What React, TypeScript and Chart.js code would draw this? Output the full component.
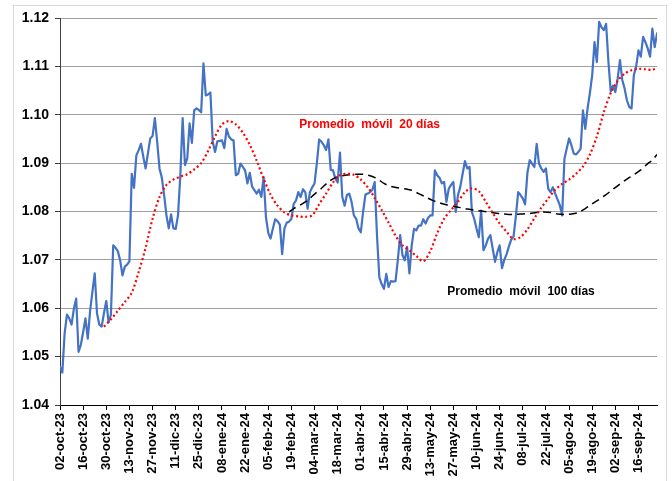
import React, { useEffect, useRef } from 'react';
import { Chart, registerables } from 'chart.js';

Chart.register(...registerables);

// x-axis tick labels, one every 10 business days
const tickLabels = [
  '02-oct-23', '16-oct-23', '30-oct-23', '13-nov-23', '27-nov-23', '11-dic-23', '25-dic-23',
  '08-ene-24', '22-ene-24', '05-feb-24', '19-feb-24', '04-mar-24', '18-mar-24', '01-abr-24',
  '15-abr-24', '29-abr-24', '13-may-24', '27-may-24', '10-jun-24', '24-jun-24', '08-jul-24',
  '22-jul-24', '05-ago-24', '19-ago-24', '02-sep-24', '16-sep-24',
];
const daysPerTick = 10;

// daily EUR/USD rate, one value per business day from 02-oct-23
const rate = [
  1.0479, 1.0467, 1.0548, 1.0587, 1.0579, 1.0566, 1.0599, 1.0620, 1.0510, 1.0524,
  1.0551, 1.0579, 1.0537, 1.0594, 1.0634, 1.0672, 1.0589, 1.0566, 1.0562, 1.0590,
  1.0615, 1.0571, 1.0586, 1.0730, 1.0725, 1.0718, 1.0699, 1.0668, 1.0686, 1.0690,
  1.0697, 1.0878, 1.0849, 1.0916, 1.0927, 1.0940, 1.0913, 1.0889, 1.0920, 1.0951,
  1.0956, 1.0993, 1.0944, 1.0889, 1.0870, 1.0834, 1.0792, 1.0765, 1.0794, 1.0765,
  1.0764, 1.0792, 1.0875, 1.0993, 1.0896, 1.0910, 1.0982, 1.0942, 1.1009, 1.1013,
  1.1010, 1.1005, 1.1106, 1.1040, 1.1042, 1.1046, 1.0944, 1.0923, 1.0945, 1.0946,
  1.0947, 1.0931, 1.0971, 1.0955, 1.0949, 1.0947, 1.0875, 1.0878, 1.0899, 1.0892,
  1.0885, 1.0858, 1.0880, 1.0852, 1.0844, 1.0837, 1.0845, 1.0830, 1.0871, 1.0789,
  1.0756, 1.0744, 1.0765, 1.0784, 1.0780, 1.0773, 1.0712, 1.0765, 1.0777, 1.0779,
  1.0785, 1.0816, 1.0823, 1.0840, 1.0830, 1.0846, 1.0840, 1.0806, 1.0840, 1.0850,
  1.0858, 1.0900, 1.0949, 1.0944, 1.0937, 1.0927, 1.0949, 1.0886, 1.0885, 1.0868,
  1.0860, 1.0922, 1.0830, 1.0812, 1.0834, 1.0837, 1.0820, 1.0792, 1.0785, 1.0765,
  1.0757, 1.0800, 1.0835, 1.0837, 1.0840, 1.0845, 1.0861, 1.0750, 1.0664, 1.0650,
  1.0640, 1.0671, 1.0644, 1.0656, 1.0655, 1.0656, 1.0700, 1.0751, 1.0710, 1.0699,
  1.0727, 1.0672, 1.0730, 1.0764, 1.0761, 1.0771, 1.0771, 1.0784, 1.0775, 1.0786,
  1.0792, 1.0792, 1.0885, 1.0875, 1.0870, 1.0858, 1.0861, 1.0820, 1.0847, 1.0855,
  1.0861, 1.0799, 1.0834, 1.0851, 1.0878, 1.0904, 1.0889, 1.0892, 1.0799, 1.0785,
  1.0765, 1.0747, 1.0802, 1.0720, 1.0730, 1.0744, 1.0751, 1.0723, 1.0696, 1.0716,
  1.0730, 1.0683, 1.0700, 1.0712, 1.0728, 1.0742, 1.0748, 1.0790, 1.0840, 1.0834,
  1.0827, 1.0815, 1.0880, 1.0906, 1.0899, 1.0892, 1.0940, 1.0899, 1.0889, 1.0882,
  1.0889, 1.0847, 1.0840, 1.0850, 1.0837, 1.0825, 1.0813, 1.0792, 1.0909, 1.0930,
  1.0951, 1.0937, 1.0920, 1.0918, 1.0923, 1.0930, 1.1009, 1.0971, 1.1013, 1.1045,
  1.1082, 1.1150, 1.1109, 1.1192, 1.1181, 1.1175, 1.1188, 1.1110, 1.1048, 1.1060,
  1.1047, 1.1075, 1.1113, 1.1072, 1.1054, 1.1030, 1.1016, 1.1013, 1.1082, 1.1100,
  1.1133, 1.1120, 1.1161, 1.1150, 1.1137, 1.1120, 1.1178, 1.1140, 1.1168,
];

// 20-day moving average (business-day index, value)
const ma20Day = [
  19, 22, 25, 28, 31, 34, 37, 40, 43, 46, 49, 52, 55, 58, 61, 64, 67, 70, 73, 76,
  79, 82, 85, 88, 91, 94, 97, 100, 103, 106, 109, 112, 115, 118, 121, 124, 127, 130, 133, 136,
  139, 142, 145, 148, 151, 154, 157, 160, 163, 166, 169, 172, 175, 178, 181, 184, 187, 190, 193, 196,
  199, 202, 205, 208, 211, 214, 217, 220, 223, 226, 229, 232, 235, 238, 241, 244, 247, 250, 253, 256,
  258,
];
const ma20Value = [
  1.0562, 1.0577, 1.0595, 1.0613, 1.0632, 1.0675, 1.0725, 1.0785, 1.0830, 1.0855,
  1.0866, 1.0872, 1.0877, 1.0887, 1.0900, 1.0925, 1.0955, 1.0980, 1.0987, 1.0980,
  1.0963, 1.0938, 1.0905, 1.0868, 1.0835, 1.0812, 1.0798, 1.0792, 1.0790, 1.0789,
  1.0792, 1.0815, 1.0837, 1.0860, 1.0875, 1.0878, 1.0876, 1.0866, 1.0850, 1.0828,
  1.0803, 1.0777, 1.0750, 1.0730, 1.0720, 1.0708, 1.0697, 1.0718, 1.0755, 1.0785,
  1.0803, 1.0820, 1.0840, 1.0848, 1.0842, 1.0820, 1.0797, 1.0775, 1.0758, 1.0743,
  1.0747, 1.0763, 1.0786, 1.0808, 1.0827, 1.0845, 1.0857, 1.0866, 1.0878, 1.0893,
  1.0918, 1.0955, 1.1005, 1.1045, 1.1070, 1.1085, 1.1092, 1.1095, 1.1094, 1.1093,
  1.1097,
];

// 100-day moving average (business-day index, value)
const ma100Day = [
  99, 101, 104, 107, 110, 113, 116, 119, 122, 125, 128, 131, 134, 137, 140, 143, 146, 149, 152, 155,
  158, 161, 164, 167, 170, 173, 176, 179, 182, 185, 188, 191, 194, 197, 200, 203, 206, 209, 212, 215,
  218, 221, 224, 227, 230, 233, 236, 239, 242, 245, 248, 251, 254, 256, 258,
];
const ma100Value = [
  1.0799, 1.0806, 1.0814, 1.0823, 1.0836, 1.0848, 1.0861, 1.0870, 1.0874, 1.0876,
  1.0877, 1.0877, 1.0874, 1.0868, 1.0858, 1.0852, 1.0849, 1.0847, 1.0844, 1.0837,
  1.0830, 1.0823, 1.0818, 1.0814, 1.0811, 1.0808, 1.0805, 1.0803, 1.0801, 1.0799,
  1.0797, 1.0795, 1.0794, 1.0794, 1.0795, 1.0796, 1.0798, 1.0799, 1.0798, 1.0795,
  1.0794, 1.0795, 1.0798, 1.0806, 1.0816, 1.0825, 1.0835, 1.0846, 1.0857, 1.0867,
  1.0876, 1.0886, 1.0899, 1.0906, 1.0918,
];

// in-chart notes (anchored at business-day index / rate value)
const noteText = ['Promedio  móvil  20 días', 'Promedio  móvil  100 días'];
const noteDay = [103.4, 167.4];
const noteValue = [1.0972, 1.0627];
const noteColor = ['#FF0000', '#000000'];

const yMin = 1.04;
const yMax = 1.12;
const yStep = 0.01;

const FONT = '"Liberation Sans", Arial, sans-serif';

const notesPlugin = {
  id: 'notes',
  afterDatasetsDraw(chart: any) {
    const { ctx, scales } = chart;
    const x = scales.x;
    const y = scales.y;
    ctx.save();
    ctx.font = `bold 12px ${FONT}`;
    ctx.textAlign = 'left';
    ctx.textBaseline = 'alphabetic';
    noteText.forEach((t, k) => {
      ctx.fillStyle = noteColor[k];
      ctx.fillText(t, x.getPixelForValue(noteDay[k]), y.getPixelForValue(noteValue[k]));
    });
    ctx.restore();
  },
};

export default function App() {
  const ref = useRef<HTMLCanvasElement>(null);

  useEffect(() => {
    const canvas = ref.current;
    if (!canvas) return;
    const chart = new Chart(canvas, {
      type: 'line',
      data: {
        datasets: [
          {
            label: 'Promedio móvil 20 días',
            data: ma20Day.map((d, k) => ({ x: d, y: ma20Value[k] })),
            borderColor: '#FF0000',
            borderWidth: 2.2,
            borderDash: [2, 2.6],
            borderCapStyle: 'butt',
            pointRadius: 0,
            tension: 0.3,
            fill: false,
          },
          {
            label: 'Promedio móvil 100 días',
            data: ma100Day.map((d, k) => ({ x: d, y: ma100Value[k] })),
            borderColor: '#000000',
            borderWidth: 1.5,
            borderDash: [8, 5],
            pointRadius: 0,
            tension: 0.3,
            fill: false,
          },
          {
            label: 'EUR/USD',
            data: rate.map((v, i) => ({ x: i, y: v })),
            borderColor: '#4472C4',
            borderWidth: 2.2,
            borderJoinStyle: 'round',
            borderCapStyle: 'round',
            pointRadius: 0,
            tension: 0,
            fill: false,
          },
        ],
      },
      options: {
        animation: false,
        responsive: false,
        maintainAspectRatio: false,
        devicePixelRatio: 1,
        layout: { padding: { left: 0, top: 18, right: 15, bottom: 0 } },
        plugins: {
          legend: { display: false },
          tooltip: { enabled: false },
        },
        scales: {
          x: {
            type: 'linear',
            min: 0,
            max: rate.length - 1,
            afterBuildTicks: (s: any) => {
              s.ticks = tickLabels.map((_, k) => ({ value: k * daysPerTick }));
            },
            afterFit: (s: any) => {
              s.height = 76;
              s.paddingLeft = 0;
              s.paddingRight = 0;
            },
            ticks: {
              autoSkip: false,
              minRotation: 90,
              maxRotation: 90,
              padding: 3,
              color: '#000',
              font: { family: FONT, size: 13, weight: 'bold' },
              callback: (v: any) => tickLabels[Math.round(Number(v) / daysPerTick)] ?? '',
            },
            grid: {
              drawOnChartArea: false,
              drawTicks: true,
              tickLength: 5,
              color: '#000',
              lineWidth: 1,
            },
            border: { color: '#000', width: 1 },
          },
          y: {
            min: yMin,
            max: yMax,
            afterFit: (s: any) => {
              s.width = 60;
              s.paddingTop = 0;
              s.paddingBottom = 0;
            },
            ticks: {
              stepSize: yStep,
              padding: 6,
              color: '#000',
              font: { family: FONT, size: 14, weight: 'bold' },
              callback: (v: any) => Number(v).toFixed(2),
            },
            grid: {
              color: '#a0a0a0',
              lineWidth: 1,
              tickColor: '#404040',
              tickLength: 5,
            },
            border: { color: '#404040', width: 1 },
          },
        },
      },
      plugins: [notesPlugin],
    } as any);
    return () => chart.destroy();
  }, []);

  return (
    <div style={{ position: 'absolute', left: 0, top: 0, width: 672, height: 481, overflow: 'hidden', background: '#fff' }}>
      <div
        style={{
          position: 'absolute',
          left: 13,
          top: 5,
          width: 654,
          height: 490,
          border: '1px solid #d9d9d9',
          boxSizing: 'border-box',
        }}
      />
      <canvas
        ref={ref}
        width={672}
        height={481}
        style={{ position: 'absolute', left: 0, top: 0, width: 672, height: 481 }}
      />
    </div>
  );
}
